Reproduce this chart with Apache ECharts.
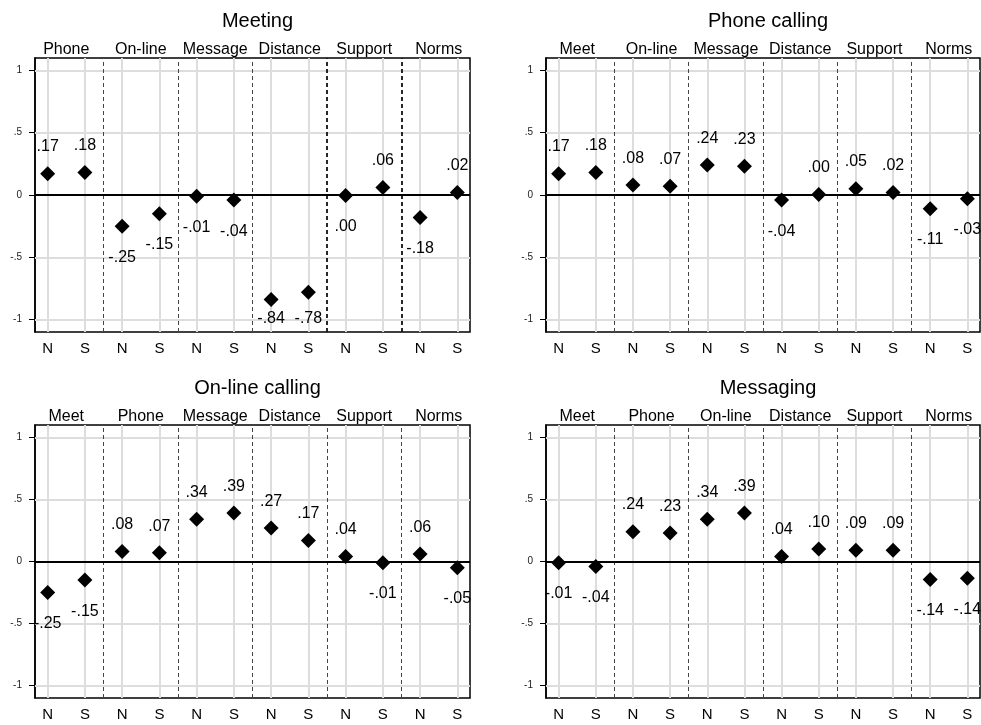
<!DOCTYPE html>
<html>
<head>
<meta charset="utf-8">
<script src="https://cdn.jsdelivr.net/npm/echarts@6/dist/echarts.min.js"></script>
<style>
  html, body { margin: 0; padding: 0; background: #fff; }
  #chart { width: 981px; height: 725px; }
</style>
</head>
<body>
<div id="chart"></div>
<script>
// ---- data ----
const subLabels = ['N', 'S', 'N', 'S', 'N', 'S', 'N', 'S', 'N', 'S', 'N', 'S'];
const xPositions = [1, 2, 3, 4, 5, 6, 7, 8, 9, 10, 11, 12];
const groupCenters = [1.5, 3.5, 5.5, 7.5, 9.5, 11.5];
const groupSeparators = [2.5, 4.5, 6.5, 8.5, 10.5];
const yTicks = [-1, -0.5, 0, 0.5, 1];

const panelTitles = ['Meeting', 'Phone calling', 'On-line calling', 'Messaging'];

const meetingGroups = ['Phone', 'On-line', 'Message', 'Distance', 'Support', 'Norms'];
const phoneGroups = ['Meet', 'On-line', 'Message', 'Distance', 'Support', 'Norms'];
const onlineGroups = ['Meet', 'Phone', 'Message', 'Distance', 'Support', 'Norms'];
const messagingGroups = ['Meet', 'Phone', 'On-line', 'Distance', 'Support', 'Norms'];

const meetingValues = [0.17, 0.18, -0.25, -0.15, -0.01, -0.04, -0.84, -0.78, -0.004, 0.06, -0.18, 0.02];
const phoneValues = [0.17, 0.18, 0.08, 0.07, 0.24, 0.23, -0.04, 0.004, 0.05, 0.02, -0.11, -0.03];
const onlineValues = [-0.25, -0.15, 0.08, 0.07, 0.34, 0.39, 0.27, 0.17, 0.04, -0.01, 0.06, -0.05];
const messagingValues = [-0.01, -0.04, 0.24, 0.23, 0.34, 0.39, 0.04, 0.10, 0.09, 0.09, -0.145, -0.135];

// ---- layout / style ----
const FONT = '"Liberation Sans", Arial, Helvetica, sans-serif';
const panels = [
  { title: panelTitles[0], groups: meetingGroups, values: meetingValues, left: 35, top: 58, width: 435, height: 274, darkSeps: [8.5, 10.5] },
  { title: panelTitles[1], groups: phoneGroups, values: phoneValues, left: 546, top: 58, width: 434, height: 274, darkSeps: [] },
  { title: panelTitles[2], groups: onlineGroups, values: onlineValues, left: 35, top: 425, width: 435, height: 273, darkSeps: [] },
  { title: panelTitles[3], groups: messagingGroups, values: messagingValues, left: 546, top: 425, width: 434, height: 273, darkSeps: [] }
];

function fmt(v) {
  const r = Math.round(Math.abs(v) * 100) / 100;
  const s = r.toFixed(2).replace(/^0/, '');
  return (v < 0 && r > 0 ? '-' : '') + s;
}
function labelPos(v) {
  return v >= 0 ? v + 0.215 : Math.max(v - 0.25, -0.99);
}
function yFmt(v) {
  if (v === 0) return '0';
  return (v < 0 ? '-' : '') + String(Math.abs(v)).replace(/^0/, '');
}

const grid = [], xAxis = [], yAxis = [], series = [], title = [];

panels.forEach((p, i) => {
  grid.push({
    left: p.left, top: p.top, width: p.width, height: p.height,
    show: true, borderColor: '#000', borderWidth: 1.5, backgroundColor: '#fff'
  });
  title.push({
    text: p.title,
    left: p.left + p.width / 2,
    top: p.top - 52,
    textAlign: 'center',
    textStyle: { fontFamily: FONT, fontSize: 20, fontWeight: 'normal', color: '#000' }
  });
  // bottom axis: N / S
  xAxis.push({
    type: 'value', gridIndex: i, min: 0.66, max: 12.34, position: 'bottom',
    axisLine: { show: false }, axisTick: { show: false }, splitLine: { show: false },
    axisLabel: {
      customValues: xPositions, margin: 9,
      formatter: v => subLabels[Math.round(v) - 1],
      fontFamily: FONT, fontSize: 15, color: '#000'
    }
  });
  // top axis: group names
  xAxis.push({
    type: 'value', gridIndex: i, min: 0.66, max: 12.34, position: 'top',
    axisLine: { show: false }, axisTick: { show: false }, splitLine: { show: false },
    axisLabel: {
      customValues: groupCenters, margin: 0,
      formatter: v => p.groups[Math.round((v - 1.5) / 2)],
      fontFamily: FONT, fontSize: 16, color: '#000'
    }
  });
  yAxis.push({
    type: 'value', gridIndex: i, min: -1.1, max: 1.1,
    axisLine: { show: true, lineStyle: { color: '#000', width: 1.5 } },
    axisTick: { show: true, customValues: yTicks, length: 6, lineStyle: { color: '#000', width: 1 } },
    splitLine: { show: false },
    axisLabel: {
      customValues: yTicks, margin: 13, formatter: yFmt,
      fontFamily: FONT, fontSize: 10, color: '#222'
    }
  });

  const lines = [];
  xPositions.forEach(x => lines.push({ xAxis: x, lineStyle: { color: '#dddddd', width: 2, type: 'solid' } }));
  yTicks.filter(y => y !== 0).forEach(y => lines.push({ yAxis: y, lineStyle: { color: '#dddddd', width: 2, type: 'solid' } }));
  groupSeparators.forEach(x => {
    const dark = p.darkSeps.indexOf(x) >= 0;
    lines.push({ xAxis: x, lineStyle: dark
      ? { color: '#111', width: 1.8, type: [4, 3] }
      : { color: '#444', width: 1, type: [4, 3] } });
  });
  lines.push({ yAxis: 0, lineStyle: { color: '#000', width: 2, type: 'solid' } });

  // label carrier series (also carries the reference lines)
  series.push({
    type: 'scatter', xAxisIndex: i * 2, yAxisIndex: i, z: 2,
    symbol: 'circle', symbolSize: 1, itemStyle: { color: 'rgba(0,0,0,0)', opacity: 1 },
    silent: true,
    data: p.values.map((v, k) => ({ value: [xPositions[k], labelPos(v)], text: fmt(v) })),
    label: {
      show: true, position: 'inside',
      formatter: prm => prm.data.text,
      fontFamily: FONT, fontSize: 16, color: '#000', opacity: 1
    },
    markLine: {
      silent: true, symbol: 'none', z: 1, animation: false,
      label: { show: false },
      data: lines
    }
  });
  // markers
  series.push({
    type: 'scatter', xAxisIndex: i * 2, yAxisIndex: i, z: 3,
    symbol: 'diamond', symbolSize: 15,
    itemStyle: { color: '#000', opacity: 1 },
    data: p.values.map((v, k) => [xPositions[k], v])
  });
});

const chart = echarts.init(document.getElementById('chart'), null, { renderer: 'canvas' });
chart.setOption({
  animation: false,
  backgroundColor: '#fff',
  title, grid, xAxis, yAxis, series
});
</script>
</body>
</html>
